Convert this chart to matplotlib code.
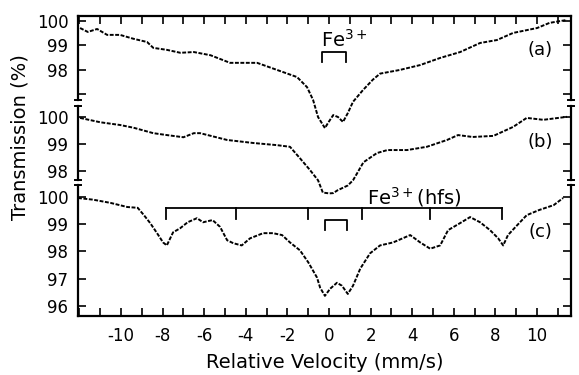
import numpy as np
import matplotlib
matplotlib.use('Agg')
import matplotlib.pyplot as plt
import matplotlib.transforms as mtransforms

# velocity (mm/s) and transmission (%)
vel_a = [-11.97, -11.6, -11.15, -10.67, -10.05, -9.4, -8.75, -8.45, -7.8, -7.15, -6.5, -5.7,
         -4.76, -3.46, -2.5, -1.54, -1.06, -0.77, -0.53, -0.2, -0.05, 0.2, 0.43, 0.67, 0.9,
         1.15, 1.63, 2.1, 2.45, 3.4, 4.38, 5.34, 6.3, 7.26, 8.07, 8.85, 10.0, 10.6, 11.44]
trans_a = [99.71, 99.55, 99.67, 99.43, 99.43, 99.27, 99.14, 98.9, 98.82, 98.7, 98.73, 98.6,
           98.29, 98.29, 98.0, 97.71, 97.3, 96.78, 96.08, 95.63, 95.84, 96.16, 96.08, 95.88, 96.24,
           96.7, 97.18, 97.6, 97.85, 98.0, 98.2, 98.49, 98.73, 99.1, 99.22, 99.51, 99.71, 99.92, 100.04]

vel_b = [-11.97, -11.0, -10.05, -9.4, -8.45, -7.8, -7.0, -6.5, -6.2, -4.9, -3.65, -2.5, -1.88,
         -1.4, -0.91, -0.53, -0.3, 0.0, 0.2, 0.4, 0.9, 1.15, 1.35, 1.65, 2.3, 2.8, 3.75, 4.7, 5.67,
         6.2, 6.9, 7.9, 8.85, 9.5, 10.3, 11.44]
trans_b = [99.96, 99.8, 99.7, 99.6, 99.4, 99.33, 99.25, 99.4, 99.4, 99.15, 99.04, 98.96, 98.9,
           98.48, 98.04, 97.67, 97.22, 97.19, 97.2, 97.3, 97.48, 97.67, 97.93, 98.33, 98.67, 98.78,
           98.78, 98.9, 99.15, 99.33, 99.26, 99.3, 99.63, 99.96, 99.89, 100.0]

vel_c = [-12.07, -11.35, -10.5, -9.7, -9.2, -8.9, -8.6, -8.27, -7.98, -7.8, -7.5, -7.16, -6.8,
         -6.35, -6.06, -5.6, -5.24, -4.9, -4.6, -4.2, -3.8, -3.17, -2.7, -2.26, -1.88, -1.4, -1.0,
         -0.58, -0.43, -0.2, 0.05, 0.38, 0.62, 0.9, 1.15, 1.5, 1.97, 2.45, 3.08, 3.9, 4.38, 4.86,
         5.34, 5.72, 6.3, 6.78, 7.26, 7.74, 8.13, 8.37, 8.6, 9.04, 9.5, 10.1, 10.8, 11.25]
trans_c = [99.96, 99.9, 99.78, 99.63, 99.6, 99.33, 99.04, 98.67, 98.33, 98.22, 98.7, 98.85, 99.07,
           99.22, 99.07, 99.15, 98.9, 98.41, 98.3, 98.22, 98.48, 98.67, 98.67, 98.6, 98.33, 98.04, 97.6,
           97.04, 96.67, 96.37, 96.63, 96.85, 96.74, 96.44, 96.74, 97.37, 97.93, 98.22, 98.33, 98.6,
           98.33, 98.1, 98.22, 98.78, 99.04, 99.26, 99.07, 98.78, 98.48, 98.22, 98.6, 98.96, 99.33,
           99.52, 99.7, 99.96]

# hyperfine sextet line positions of Fe3+ and the quadrupole doublet
hfs_lines = [-7.85, -4.47, -1.0, 1.6, 4.86, 8.3]
doublet_a = [-0.34, 0.82]
doublet_c = [-0.2, 0.87]

ticks_a = [100, 99, 98, 97]
ticks_b = [100, 99, 98]
ticks_c = [100, 99, 98, 97, 96]

# stacking: (offset of the 100 % line, vertical scale) for each spectrum
panels = {'a': (106.46, 0.9), 'b': (102.94, 1.0), 'c': (100.0, 1.0)}


def stack(vals, key):
    off, sc = panels[key]
    return off + (np.asarray(vals, dtype=float) - 100) * sc


fig = plt.figure(figsize=(5.79, 3.75), dpi=100)
ax = fig.add_axes([78 / 579, 1 - 316 / 375, 493 / 579, 300 / 375])

style = dict(color='black', lw=1.4, ls=(0, (2.0, 0.8)))
ax.plot(vel_a, stack(trans_a, 'a'), **style)
ax.plot(vel_b, stack(trans_b, 'b'), **style)
ax.plot(vel_c, stack(trans_c, 'c'), **style)

ax.set_xlim(-12.07, 11.63)
ax.set_ylim(95.63, 106.64)

# x ticks every 1 mm/s, labels every 2
ax.set_xticks(np.arange(-12, 12, 1), minor=True)
ax.set_xticks(np.arange(-10, 11, 2))
ax.set_xticklabels([str(t) for t in range(-10, 11, 2)])
ax.tick_params(axis='x', which='both', direction='in', top=True, bottom=True,
               length=6, width=1.2, labelsize=12, pad=8)

ypos = list(stack(ticks_a, 'a')) + list(stack(ticks_b, 'b')) + list(stack(ticks_c, 'c'))
ylab = [str(t) if t != 97 else '' for t in ticks_a] + [str(t) for t in ticks_b] + [str(t) for t in ticks_c]
ax.set_yticks(ypos)
ax.set_yticklabels(ylab)
ax.tick_params(axis='y', direction='in', left=True, right=True, length=6, width=1.2,
               labelsize=12, pad=7)

# broken left/right spines
for s in ['top', 'bottom']:
    ax.spines[s].set_linewidth(1.6)
ax.spines['left'].set_visible(False)
ax.spines['right'].set_visible(False)
segs = [(95.63, 100.44), (100.62, 103.34), (103.56, 106.64)]
for xs in [0, 1]:
    tr = mtransforms.blended_transform_factory(ax.transAxes, ax.transData)
    for lo, hi in segs:
        ax.plot([xs, xs], [lo, hi], color='black', lw=1.6, transform=tr, clip_on=False)
        for yy in (lo, hi):
            if yy in (95.63, 106.64):
                continue
            ax.plot([xs - 0.007, xs + 0.007], [yy, yy], color='black', lw=1.4,
                    transform=tr, clip_on=False)

# Fe3+ doublet marker in (a)
ya_top, ya_bot = 105.32, 104.95
ax.plot([doublet_a[0], doublet_a[0], doublet_a[1], doublet_a[1]],
        [ya_bot, ya_top, ya_top, ya_bot], color='black', lw=1.3)
ax.text(doublet_a[0] - 0.05, 105.5, 'Fe$^{3+}$', fontsize=14, ha='left', va='baseline')

# hfs sextet bar in (c)
yh, yh2 = 99.6, 99.2
ax.plot([hfs_lines[0], hfs_lines[-1]], [yh, yh], color='black', lw=1.3)
for h in hfs_lines:
    ax.plot([h, h], [yh, yh2], color='black', lw=1.3)
ax.text(1.83, 99.72, 'Fe$^{3+}$(hfs)', fontsize=14, ha='left', va='baseline')

yc_top, yc_bot = 99.16, 98.79
ax.plot([doublet_c[0], doublet_c[0], doublet_c[1], doublet_c[1]],
        [yc_bot, yc_top, yc_top, yc_bot], color='black', lw=1.3)

ax.text(10.15, 105.39, '(a)', fontsize=13, ha='center', va='center')
ax.text(10.15, 102.02, '(b)', fontsize=13, ha='center', va='center')
ax.text(10.15, 98.72, '(c)', fontsize=13, ha='center', va='center')

ax.set_xlabel('Relative Velocity (mm/s)', fontsize=14, labelpad=6)
fig.text(20 / 579, 1 - 137 / 375, 'Transmission (%)', rotation=90, fontsize=14,
         ha='center', va='center')

plt.savefig('out.png', dpi=100)
